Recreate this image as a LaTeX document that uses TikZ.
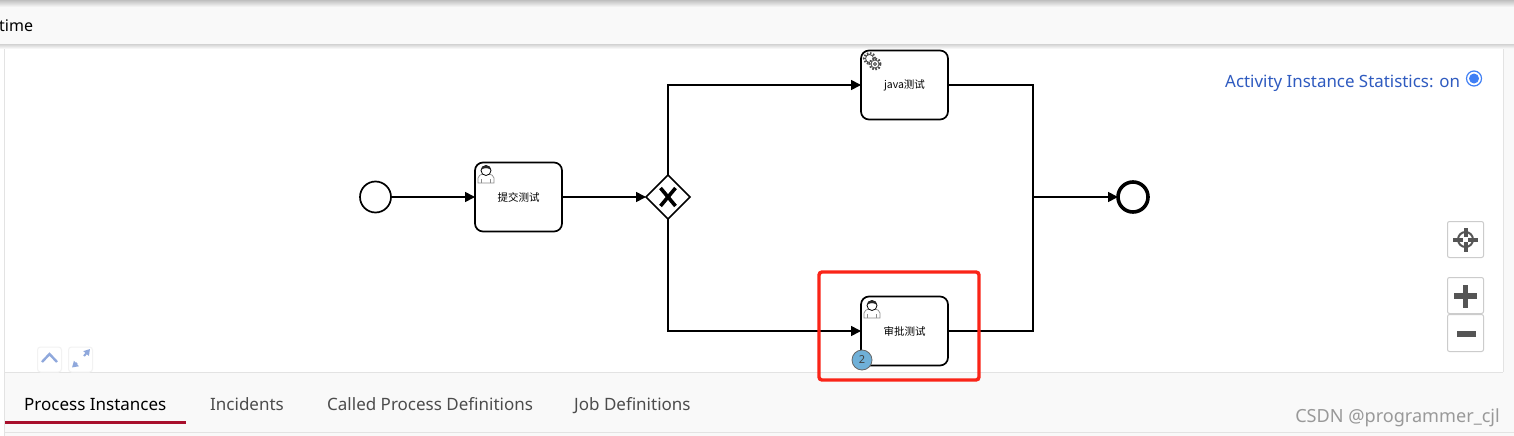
\documentclass[tikz,border=0pt]{standalone}
\usepackage{fontspec}
\setmainfont{Noto Sans}
\newfontfamily\cjkfont{Noto Sans CJK SC}
\usetikzlibrary{arrows.meta,shapes.geometric}

\definecolor{panelgray}{HTML}{F9F9F9}
\definecolor{edgegray}{HTML}{E3E3E3}
\definecolor{linkblue}{HTML}{2F5BC0}
\definecolor{radioblue}{HTML}{3F7FF5}
\definecolor{tabred}{HTML}{A80F2C}
\definecolor{framered}{HTML}{FA2418}
\definecolor{badgeblue}{HTML}{6FB0D8}
\definecolor{icongray}{HTML}{555555}
\definecolor{softblue}{HTML}{8FA8DC}

\tikzset{
  flow/.style={line width=1.7pt,-{Triangle[length=10pt,width=10pt]}},
  flowplain/.style={line width=1.7pt},
  task/.style={draw,line width=1.7pt,outer sep=0pt,rounded corners=8pt,minimum width=87pt,minimum height=69pt,inner sep=0pt,fill=white,font=\fontsize{10.5pt}{12pt}\cjkfont},
  event/.style={draw,circle,fill=white,outer sep=0pt,minimum size=31pt,inner sep=0pt},
  tabtext/.style={font=\fontsize{17pt}{20pt}\selectfont,text=black!70,anchor=base west,inner sep=0pt},
  toolbtn/.style={draw=black!20,line width=1pt,rounded corners=2pt,fill=white,minimum width=36pt,minimum height=36pt,inner sep=0pt},
  smallbtn/.style={draw=black!5,line width=1pt,rounded corners=3pt,fill=white,minimum width=24pt,minimum height=25pt,inner sep=0pt},
  handicon/.style={draw=black!45,line width=.7pt,fill=white},
}

\newcommand{\usericon}[2]{%
  \begin{scope}[shift={(#1,#2)}]
    \draw[handicon] (0,19) -- (0,14) .. controls (0,11) and (3,11) .. (5,10) -- (11,10) .. controls (13,11) and (16,11) .. (16,14) -- (16,19) -- cycle;
    \draw[handicon] (3.5,19) -- (3.5,15);
    \draw[handicon] (12.5,19) -- (12.5,15);
    \draw[black,line width=.8pt,fill=white] (8,6.5) circle (5pt);
    \fill[black!85] (3,6) .. controls (3,0) and (13,0) .. (13,6) .. controls (10.5,3.5) and (5.5,3.5) .. (3,6) -- cycle;
  \end{scope}}

\begin{document}
\begin{tikzpicture}[x=1pt,y=-1pt]
  \useasboundingbox (0,0) rectangle (1514,436);

  % page frame
  \fill[white] (0,0) rectangle (1514,436);
  \fill[panelgray] (1503,46) rectangle (1514,436);
  \draw[edgegray,line width=1pt] (1503,46) -- (1503,372);
  \draw[edgegray,line width=1pt] (4.5,46) -- (4.5,436);
  \fill[panelgray] (5,372) rectangle (1503,436);
  \draw[edgegray,line width=1pt] (5,372) -- (1503,372);
  \draw[edgegray,line width=1pt] (5,432) -- (1514,432);

  % top bar
  \fill[panelgray] (0,0) rectangle (1514,45);
  \shade[top color=black!25,bottom color=panelgray] (0,0) rectangle (1514,7);
  \shade[top color=black!14,bottom color=white] (0,45) rectangle (1514,49);
  \node[font=\fontsize{16pt}{20pt}\selectfont,anchor=base west,inner sep=0pt] (timelabel) at (-1,32) {time};

  % process
  \node[event,line width=1.7pt] (start) at (375.5,197) {};
  \node[task] (submit) at (518.5,197) {提交测试};
  \node[draw,diamond,fill=white,line width=1.7pt,outer sep=0pt,minimum width=44pt,minimum height=44pt,inner sep=0pt] (gateway) at (668,197) {};
  \node[task] (javatask) at (904.5,85) {java测试};
  \node[task] (approve) at (904.5,331) {审批测试};
  \node[event,line width=3.6pt,minimum size=30pt] (finish) at (1133,197) {};
  \coordinate (merge) at (1033,197);

  \draw[flow] (start) -- (submit);
  \draw[flow] (submit) -- (gateway);
  \draw[flow] (gateway.north) |- (javatask.west);
  \draw[flow] (gateway.south) |- (approve.west);
  \draw[flowplain] (javatask.east) -| (merge);
  \draw[flowplain] (approve.east) -| (merge);
  \draw[flow] (merge) -- (finish);

  % gateway mark
  \draw[line width=3.6pt] (660.5,188) -- (675.5,206);
  \draw[line width=3.6pt] (675.5,188) -- (660.5,206);

  % task icons
  \usericon{478}{164}
  \usericon{864}{299}
  \draw[black!70,line width=2.2pt,dash pattern=on 1.6pt off 1.6pt] (869.5,58.5) circle (5.5pt);
  \draw[black!70,line width=.8pt,fill=white] (869.5,58.5) circle (4pt);
  \draw[black!70,line width=2.2pt,dash pattern=on 1.6pt off 1.6pt,fill=white] (875,64) circle (5.5pt);
  \draw[black!70,line width=.8pt,fill=white] (875,64) circle (4pt);
  \draw[black!70,line width=.8pt,fill=white] (875,64) circle (1.5pt);

  % badge and highlight
  \node[draw=black!60,circle,fill=badgeblue,line width=.8pt,minimum size=20pt,inner sep=0pt,font=\fontsize{11pt}{12pt}\bfseries\selectfont,text=black!75] (badge) at (862,360) {2};
  \draw[framered,line width=3.4pt,rounded corners=3pt] (819,272) rectangle (979,380);

  % statistics switch
  \node[font=\fontsize{16.9pt}{20pt}\selectfont,text=linkblue,anchor=base west,inner sep=0pt] (statlabel) at (1225,87) {Activity Instance Statistics: on};
  \node[draw=radioblue,circle,line width=1.2pt,fill=white,minimum size=15pt,inner sep=0pt] (radio) at (1474,78.5) {};
  \fill[radioblue] (radio.center) circle (5pt);

  % zoom buttons
  \node[toolbtn] (resetbtn) at (1465.5,239.5) {};
  \draw[icongray,line width=2pt] (resetbtn.center) circle (7.5pt);
  \draw[icongray,line width=4pt] (1465.5,228) -- (1465.5,237);
  \draw[icongray,line width=4pt] (1465.5,242) -- (1465.5,252);
  \draw[icongray,line width=4pt] (1453,239.5) -- (1463,239.5);
  \draw[icongray,line width=4pt] (1468,239.5) -- (1478,239.5);
  \node[toolbtn] (plusbtn) at (1465.5,295.5) {};
  \draw[icongray,line width=5.5pt] (1465.5,285) -- (1465.5,308);
  \draw[icongray,line width=5.5pt] (1454,296) -- (1477,296);
  \node[toolbtn,minimum height=37pt] (minusbtn) at (1465.5,333) {};
  \draw[icongray,line width=5.5pt] (1457,334) -- (1476,334);

  % collapse and expand
  \node[smallbtn] (upbtn) at (49.5,359.5) {};
  \draw[softblue,line width=2.4pt] (42,362) -- (49.5,354) -- (57,362);
  \node[smallbtn] (expandbtn) at (80.5,359.5) {};
  \draw[softblue,line width=2pt,-{Triangle[length=6pt,width=7pt]}] (77,363) -- (72,367.5);
  \draw[softblue,line width=2pt,-{Triangle[length=6pt,width=7pt]}] (84,356) -- (90,349);

  % tabs
  \node[tabtext,text=black] (tabinstances) at (24,410) {Process Instances};
  \node[tabtext] (tabincidents) at (210,410) {Incidents};
  \node[tabtext] (tabcalled) at (327,410) {Called Process Definitions};
  \node[tabtext] (tabjobs) at (574,410) {Job Definitions};
  \draw[tabred,line width=3pt] (5,422.5) -- (186,422.5);

  % watermark
  \node[font=\fontsize{18.1pt}{20pt}\selectfont,text=black!40,anchor=base east,inner sep=0pt] (watermark) at (1500,422) {CSDN @programmer\_cjl};
\end{tikzpicture}
\end{document}
